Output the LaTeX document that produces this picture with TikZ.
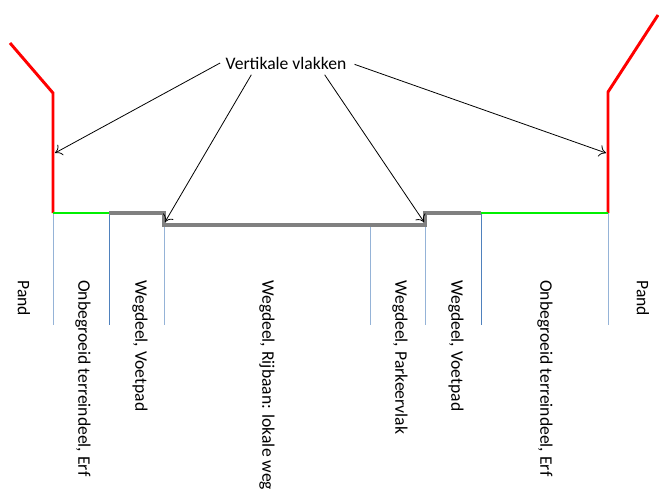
\documentclass[tikz,border=0pt]{standalone}
\usepackage{fontspec}
\setmainfont{Carlito}
\usepackage{tikz}
\usetikzlibrary{arrows.meta}

\definecolor{pandrood}{RGB}{255,0,0}
\definecolor{erfgroen}{RGB}{0,240,0}
\definecolor{weggrijs}{RGB}{128,128,128}
\definecolor{grenslicht}{RGB}{149,179,215}
\definecolor{grensdonker}{RGB}{79,129,189}

\tikzset{
  pandlijn/.style={pandrood, line width=2.2pt},
  erflijn/.style={erfgroen, line width=2pt},
  weglijn/.style={weggrijs, line width=2.8pt},
  grens/.style={grenslicht, line width=0.7pt},
  grensd/.style={grensdonker, line width=0.6pt},
  vlak/.style={rotate=-90, anchor=west, inner sep=0pt, font=\fontsize{13.2}{15}\selectfont},
  pijl/.style={-{To[length=5pt,width=9pt]}, line width=0.6pt}
}

\begin{document}
\begin{tikzpicture}[x=0.75pt, y=-0.75pt]
            \useasboundingbox (0,0) rectangle (659,489);

            % Grenzen tussen de vlakken
            \draw[grens]  (53,213)  -- (53,325);
            \draw[grensd] (109,213) -- (109,325);
            \draw[grens]  (164,225) -- (164,325);
            \draw[grens]  (370,225) -- (370,325);
            \draw[grens]  (425,225) -- (425,325);
            \draw[grensd] (481,213) -- (481,325);
            \draw[grens]  (608,213) -- (608,325);

            % Panden
            \draw[pandlijn, line join=miter] (10,43) -- (53,93) -- (53,213);
            \draw[pandlijn, line join=miter] (658,15) -- (608,92) -- (608,213);

            % Erven
            \draw[erflijn] (53,213) -- (109,213);
            \draw[erflijn] (481,213) -- (608,213);

            % Weg
            \draw[weglijn] (109,213) -- (164,213) -- (164,225) -- (425,225) -- (425,213) -- (481,213);

            % Doelen van de pijlen
            \coordinate (pl) at (55,153);
            \coordinate (sl) at (165,222);
            \coordinate (sr) at (424,222);
            \coordinate (pr) at (606,153);

            % Label met pijlen
            \node[inner sep=1pt, font=\fontsize{13.2}{15}\selectfont] (vv) at (286,63) {Vertikale vlakken};
            \draw[pijl] ([xshift=-3pt]vv.west) -- (pl);
            \draw[pijl] ([xshift=-26pt,yshift=-3pt]vv.south) -- (sl);
            \draw[pijl] ([xshift=29pt,yshift=-3pt]vv.south) -- (sr);
            \draw[pijl] ([xshift=5pt,yshift=-1pt]vv.east) -- (pr);

            % Namen van de vlakken
            \node[vlak] (pandl) at (24,280)  {Pand};
            \node[vlak] (erfl)  at (83,280)  {Onbegroeid terreindeel, Erf};
            \node[vlak] (voetl) at (140,280) {Wegdeel, Voetpad};
            \node[vlak] (rijb)  at (267,280) {Wegdeel, Rijbaan: lokale weg};
            \node[vlak] (park)  at (400,280) {Wegdeel, Parkeervlak};
            \node[vlak] (voetr) at (456,280) {Wegdeel, Voetpad};
            \node[vlak] (erfr)  at (545,280) {Onbegroeid terreindeel, Erf};
            \node[vlak] (pandr) at (643,280) {Pand};
        \end{tikzpicture}
\end{document}
